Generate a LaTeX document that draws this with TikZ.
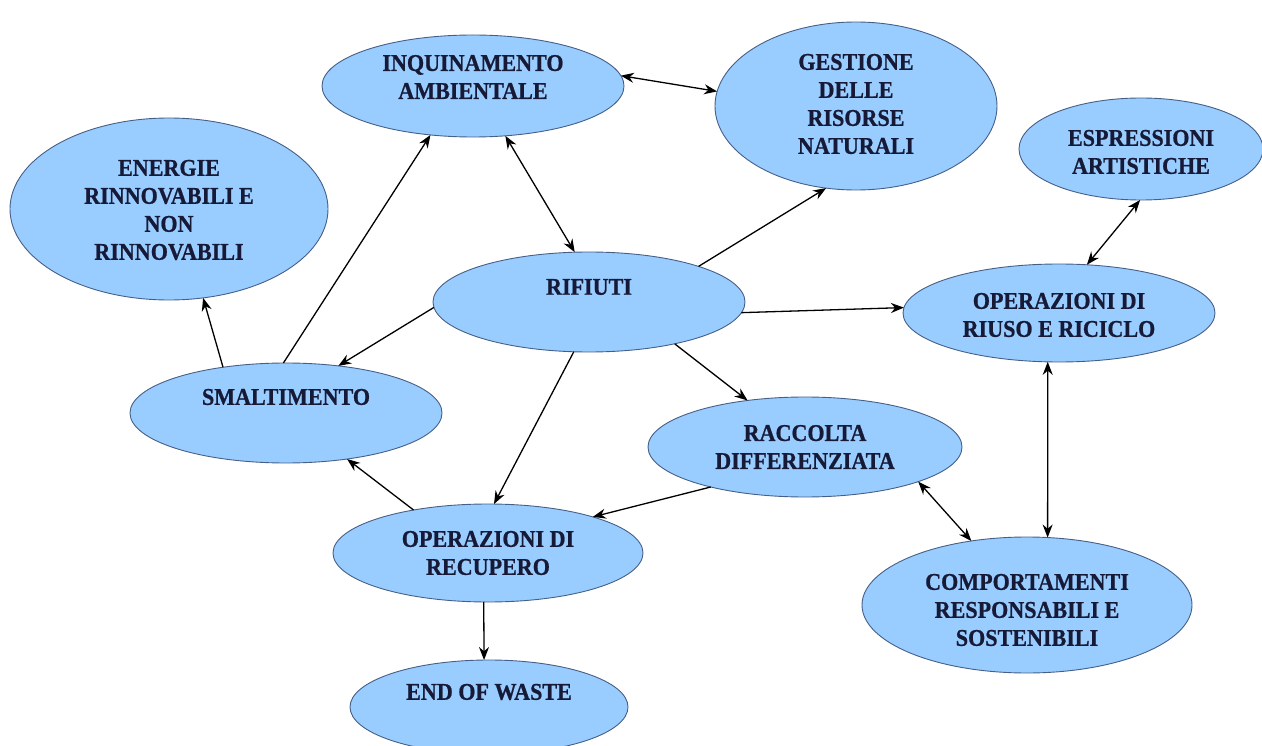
\documentclass[tikz,border=0pt]{standalone}
\usepackage{fontspec}
\setmainfont{Liberation Serif}[FakeStretch=0.92,BoldFeatures={FakeBold=0.8}]
\usetikzlibrary{arrows.meta,shapes.geometric}
\definecolor{bubblefill}{RGB}{153,204,255}
\definecolor{bubbleline}{RGB}{70,95,135}
\definecolor{bubbletext}{RGB}{22,26,55}
\tikzset{
  bubble/.style={ellipse, draw=bubbleline, line width=0.9pt, fill=bubblefill, inner sep=0pt, outer sep=0pt},
  lbl/.style={text=bubbletext, font=\fontsize{24}{28}\selectfont\bfseries, align=center, inner sep=0pt},
  tip/.style={},
  conn/.style={line width=1.3pt, -{Stealth[length=13pt,width=10pt]}},
  conn2/.style={line width=1.3pt, {Stealth[length=13pt,width=10pt]}-{Stealth[length=13pt,width=10pt]}}
}
\begin{document}
\begin{tikzpicture}[x=1pt,y=-1pt]
\useasboundingbox (0,0) rectangle (1262,746);
% ellipses
\node[bubble, minimum width=302pt, minimum height=102pt] (inq) at (473,86) {};
\node[bubble, minimum width=282pt, minimum height=168pt] (ges) at (856,106) {};
\node[bubble, minimum width=318pt, minimum height=182pt] (ene) at (169,209) {};
\node[bubble, minimum width=244pt, minimum height=102pt] (esp) at (1141,149) {};
\node[bubble, minimum width=312pt, minimum height=100pt] (rif) at (589,302) {};
\node[bubble, minimum width=312pt, minimum height=98pt] (riu) at (1059,313) {};
\node[bubble, minimum width=312pt, minimum height=100pt] (sma) at (286,413) {};
\node[bubble, minimum width=314pt, minimum height=100pt] (rac) at (805,447) {};
\node[bubble, minimum width=310pt, minimum height=98pt] (rec) at (488,553) {};
\node[bubble, minimum width=330pt, minimum height=136pt] (com) at (1027,605) {};
\node[bubble, minimum width=278pt, minimum height=94pt] (eow) at (489,707) {};
% labels
\node[lbl] (inq-t) at (473,77) {INQUINAMENTO\\AMBIENTALE};
\node[lbl] (ges-t) at (856,104) {GESTIONE\\DELLE\\RISORSE\\NATURALI};
\node[lbl] (ene-t) at (169,210) {ENERGIE\\RINNOVABILI E\\NON\\RINNOVABILI};
\node[lbl] (esp-t) at (1141,152) {ESPRESSIONI\\ARTISTICHE};
\node[lbl] (rif-t) at (589,287) {RIFIUTI};
\node[lbl] (riu-t) at (1059,315) {OPERAZIONI DI\\RIUSO E RICICLO};
\node[lbl] (sma-t) at (286,397) {SMALTIMENTO};
\node[lbl] (rac-t) at (805,447) {RACCOLTA\\DIFFERENZIATA};
\node[lbl] (rec-t) at (488,553) {OPERAZIONI DI\\RECUPERO};
\node[lbl] (com-t) at (1027,610) {COMPORTAMENTI\\RESPONSABILI E\\SOSTENIBILI};
\node[lbl] (eow-t) at (489,692) {END OF WASTE};
% connectors
\draw[conn2] (inq.4) -- (ges.174);
\draw[conn2] (inq.-57) -- (rif.106);
\draw[conn] (sma.93) -- (inq.-131);
\draw[conn] (sma.144) -- (ene.-69);
\draw[conn] (rif.18) -- (ges.-110);
\draw[conn] (rif.182) -- (sma.42);
\draw[conn] (rif.-4) -- (riu.178);
\draw[conn] (rif.-26) -- (rac.141);
\draw[conn] (rif.-107) -- (rec.83);
\draw[conn] (rac.203) -- (rec.19);
\draw[conn] (rec.150) -- (sma.-37);
\draw[conn] (rec.-95) -- (eow.96);
\draw[conn2] (esp.-91) -- (riu.60);
\draw[conn2] (riu.-103) -- (com.73);
\draw[conn2] (rac.-17) -- (com.131);
\end{tikzpicture}
\end{document}
